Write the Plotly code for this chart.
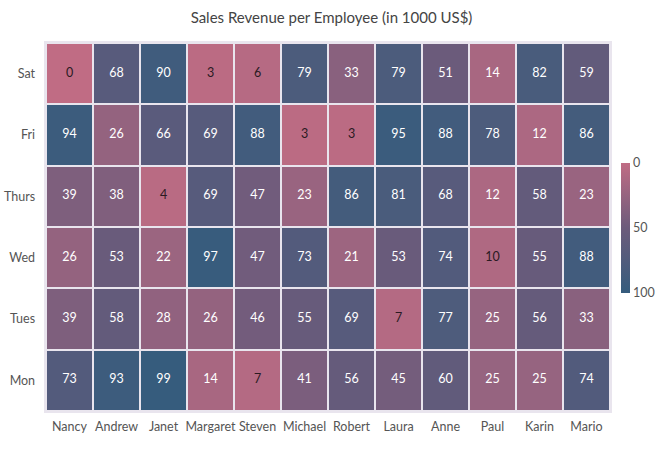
import plotly.graph_objects as go

employees = ['Nancy', 'Andrew', 'Janet', 'Margaret', 'Steven', 'Michael',
             'Robert', 'Laura', 'Anne', 'Paul', 'Karin', 'Mario']
days = ['Mon', 'Tues', 'Wed', 'Thurs', 'Fri', 'Sat']

# revenue per day, rows follow `days` (bottom to top)
mon = [73, 93, 99, 14, 7, 41, 56, 45, 60, 25, 25, 74]
tues = [39, 58, 28, 26, 46, 55, 69, 7, 77, 25, 56, 33]
wed = [26, 53, 22, 97, 47, 73, 21, 53, 74, 10, 55, 88]
thurs = [39, 38, 4, 69, 47, 23, 86, 81, 68, 12, 58, 23]
fri = [94, 26, 66, 69, 88, 3, 3, 95, 88, 78, 12, 86]
sat = [0, 68, 90, 3, 6, 79, 33, 79, 51, 14, 82, 59]

colorbar_ticks = [0, 50, 100]

z = [mon, tues, wed, thurs, fri, sat]
scale = [[0, '#C06C84'], [0.5, '#6C5B7B'], [1, '#355C7D']]
font = 'Lato'
gap_col = '#E9E5EE'

fig = go.Figure()

fig.add_trace(go.Heatmap(
    x=employees, y=days, z=z,
    zmin=0, zmax=100,
    colorscale=scale,
    xgap=2, ygap=2,
    showscale=False,
    hoverinfo='x+y+z'
))

# labels on cells (dark on the lightest ones)
xs, ys, txt, cols = [], [], [], []
for d, row in zip(days, z):
    for e, v in zip(employees, row):
        xs.append(e)
        ys.append(d)
        txt.append(str(v))
        cols.append('#2a1a22' if v <= 10 else 'white')
fig.add_trace(go.Scatter(
    x=xs, y=ys, text=txt, mode='text',
    textfont=dict(color=cols, size=12.5, family=font),
    hoverinfo='skip', showlegend=False
))

# colorbar with 0 on top: drawn from a hidden trace on negated scale
fig.add_trace(go.Scatter(
    x=[employees[0]], y=[days[0]], mode='markers',
    marker=dict(
        size=0, opacity=0,
        color=[-colorbar_ticks[0]],
        cmin=-colorbar_ticks[-1], cmax=-colorbar_ticks[0],
        colorscale=[[1 - p, c] for p, c in scale][::-1],
        showscale=True,
        colorbar=dict(
            x=1.019, xanchor='left', xpad=0,
            y=0.497, yanchor='middle', len=130 / 368, ypad=0,
            thickness=9, outlinewidth=0,
            tickvals=[-t for t in colorbar_ticks],
            ticktext=[str(t) for t in colorbar_ticks],
            ticks='', tickfont=dict(size=12.5, color='#555', family=font),
        )
    ),
    hoverinfo='skip', showlegend=False
))

fig.update_layout(
    title=dict(text='Sales Revenue per Employee (in 1000 US$)',
               x=0.5, xanchor='center', y=1 - 18 / 450, yanchor='middle',
               font=dict(size=15, color='#444', family=font)),
    width=663, height=450,
    margin=dict(l=46, r=47, t=43, b=39),
    paper_bgcolor='white',
    plot_bgcolor=gap_col,
    font=dict(family=font, color='#555', size=12.5),
    xaxis=dict(showgrid=False, zeroline=False, ticks='', showline=True,
               mirror=True, linecolor=gap_col, linewidth=2,
               range=[-0.5, len(employees) - 0.5], tickangle=0,
               ticklabelstandoff=3, automargin=False),
    yaxis=dict(showgrid=False, zeroline=False, ticks='', showline=True,
               mirror=True, linecolor=gap_col, linewidth=2,
               range=[-0.5, len(days) - 0.5], ticksuffix='  ',
               automargin=False),
)

fig.write_html('out.html', config={'displayModeBar': False},
               post_script="document.body.style.margin='0';")
